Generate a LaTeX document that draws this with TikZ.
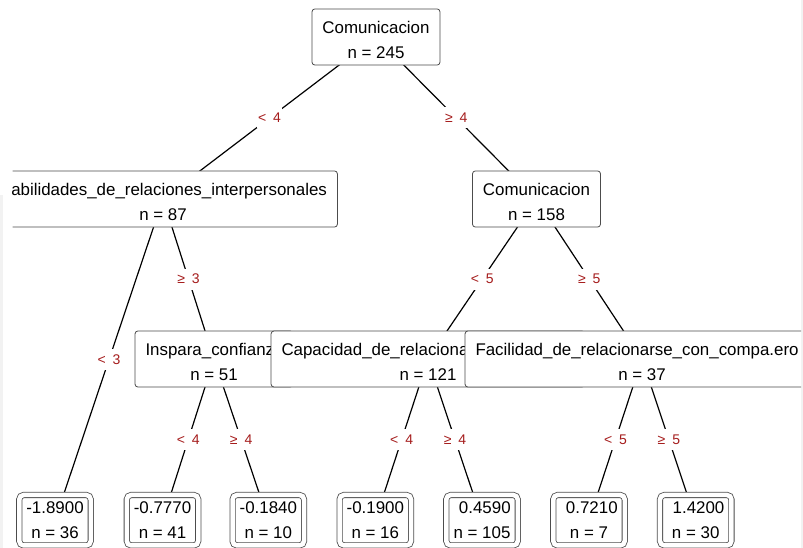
\documentclass[tikz,border=0pt]{standalone}
\usepackage{fontspec}
\setmainfont{Liberation Sans}
\usetikzlibrary{backgrounds}
\definecolor{condred}{RGB}{165,28,28}
\newcommand{\splittop}{\rule{0pt}{17.6pt}}

\begin{document}
\begin{tikzpicture}[
	x=1pt, y=-1pt,
	split/.style={draw=black!70, line width=0.8pt, fill=white, rounded corners=3pt, align=center,
		inner xsep=10.5pt, inner ysep=6.7pt, font=\fontsize{16.9}{25}\selectfont},
	leaf/.style={draw=black!70, line width=0.8pt, double=white, double distance=4.5pt, fill=white,
		rounded corners=4.5pt, align=center, minimum width=71.5pt, minimum height=50.5pt,
		inner sep=0pt, font=\fontsize{16.9}{25}\selectfont},
	branch/.style={line width=1.2pt},
	cond/.style={fill=white, text=condred, inner xsep=1pt, minimum height=21pt, font=\fontsize{14}{16}\selectfont}
	]
	\useasboundingbox (0,0) rectangle (803,548);
	
	% --- BORDI ---
	\fill[gray!10] (0,195) rectangle (3,548);
	\fill[gray!10] (801,0) rectangle (803,548);
	
	\begin{scope}
	\clip (12.5,0) rectangle (801,548);
	
	% --- NODI INTERNI ---
	\node[split] (n1) at (376,37) {\splittop Comunicacion\\n = 245};
	\node[split] (n2) at (163,199) {\splittop Habilidades\_de\_relaciones\_interpersonales\\n = 87};
	\node[split] (n3) at (536.5,199) {\splittop Comunicacion\\n = 158};
	\node[split] (n4) at (214,359) {\splittop\makebox[137pt][l]{Inspara\_confianz}\\n = 51};
	\node[split] (n5) at (428,359) {\splittop\makebox[293pt][l]{Capacidad\_de\_relaciona}\\n = 121};
	\node[split] (n6) at (642,359) {\splittop\makebox[333pt][l]{Facilidad\_de\_relacionarse\_con\_compa.ero}\\n = 37};
	
	% --- FOGLIE ---
	\node[leaf] (l1) at (55,520.2) {-1.8900\\n = 36};
	\node[leaf] (l2) at (162.5,520.2) {-0.7770\\n = 41};
	\node[leaf] (l3) at (268.3,520.2) {-0.1840\\n = 10};
	\node[leaf] (l4) at (375.3,520.2) {-0.1900\\n = 16};
	\node[leaf] (l5) at (482,520.2) {\hphantom{-}0.4590\\n = 105};
	\node[leaf] (l6) at (589,520.2) {\hphantom{-}0.7210\\n = 7};
	\node[leaf] (l7) at (695.7,520.2) {\hphantom{-}1.4200\\n = 30};
	
	% --- RAMI ---
	\begin{pgfonlayer}{background}
	\draw[branch] (n1.center) -- node[cond] {<\enspace 4} (n2.center);
	\draw[branch] (n1.center) -- node[cond] {≥\enspace 4} (n3.center);
	\draw[branch] (n2.center) -- node[cond] {<\enspace 3} (l1.center);
	\draw[branch] (n2.center) -- node[cond] {≥\enspace 3} (n4.center);
	\draw[branch] (n3.center) -- node[cond] {<\enspace 5} (n5.center);
	\draw[branch] (n3.center) -- node[cond] {≥\enspace 5} (n6.center);
	\draw[branch] (n4.center) -- node[cond] {<\enspace 4} (l2.center);
	\draw[branch] (n4.center) -- node[cond] {≥\enspace 4} (l3.center);
	\draw[branch] (n5.center) -- node[cond] {<\enspace 4} (l4.center);
	\draw[branch] (n5.center) -- node[cond] {≥\enspace 4} (l5.center);
	\draw[branch] (n6.center) -- node[cond] {<\enspace 5} (l6.center);
	\draw[branch] (n6.center) -- node[cond] {≥\enspace 5} (l7.center);
	\end{pgfonlayer}
	\end{scope}
	
\end{tikzpicture}
\end{document}
